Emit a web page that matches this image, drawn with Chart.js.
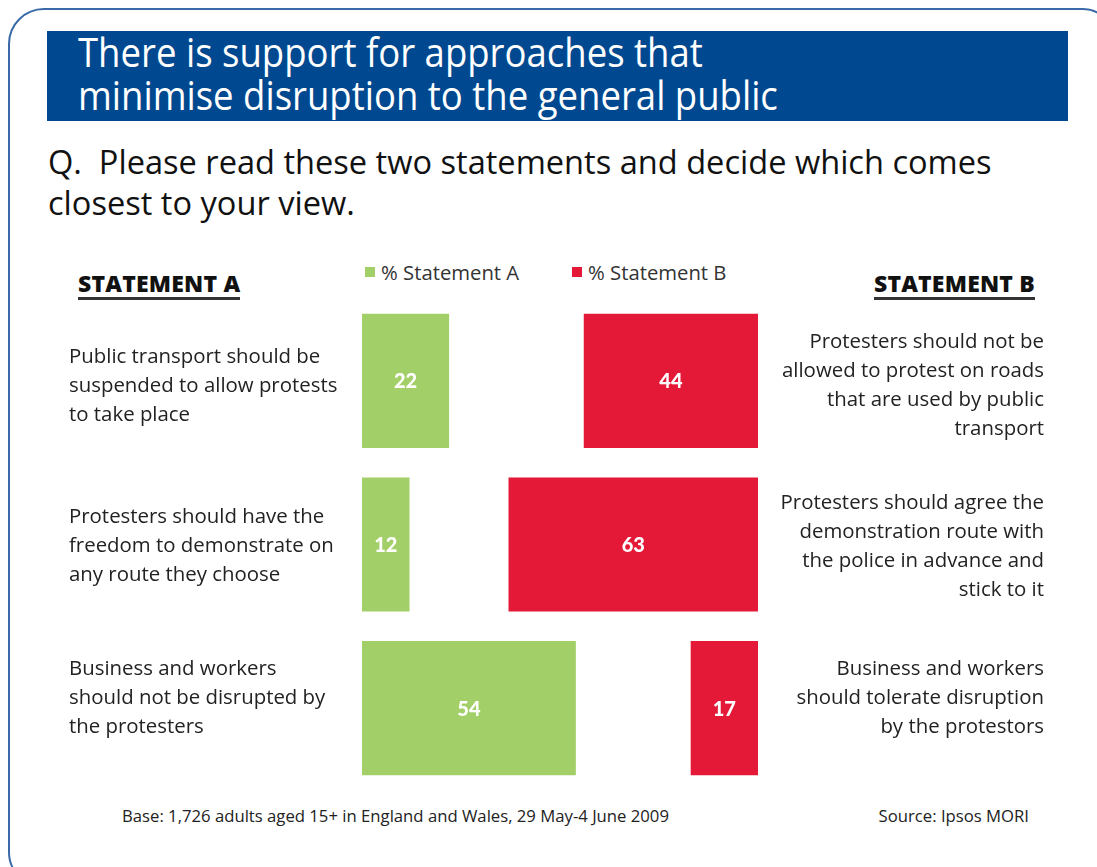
<!DOCTYPE html>
<html>
<head>
<meta charset="utf-8">
<script src="https://cdn.jsdelivr.net/npm/chart.js@4/dist/chart.umd.min.js"></script>
<style>
  html, body { margin: 0; padding: 0; background: #fff; }
  body { width: 1097px; height: 867px; position: relative; overflow: hidden; font-family: "Open Sans", Lato, sans-serif; color: #222; }
  #frame { position: absolute; left: 8px; top: 8px; width: 1110px; height: 880px; border: 2px solid #3b6aa8; border-radius: 36px; box-sizing: border-box; }
  #banner { position: absolute; left: 47px; top: 31px; width: 1021px; height: 90px; background: #004990; }
  #title { position: absolute; left: 78px; top: 30px; color: #fff; font-size: 40px; line-height: 43px; white-space: nowrap; transform: scaleX(0.913); transform-origin: left top; }
  #question { position: absolute; left: 48px; top: 141px; font-size: 32.6px; line-height: 41px; color: #111; white-space: nowrap; }
  .head { position: absolute; top: 271px; font-weight: 800; font-size: 23px; line-height: 25px; letter-spacing: 0.2px; border-bottom: 3px solid #333; padding-bottom: 1px; color: #111; white-space: nowrap; }
  .legend { position: absolute; top: 259px; font-size: 20.3px; line-height: 26px; color: #333; white-space: nowrap; }
  .legend i { display: inline-block; width: 10px; height: 10px; margin-right: 6px; vertical-align: 3px; }
  .foot { position: absolute; top: 805px; font-size: 16.7px; line-height: 22px; color: #222; white-space: nowrap; }
  canvas { position: absolute; left: 0; top: 0; }
</style>
</head>
<body>
<div id="frame"></div>
<div id="banner"></div>
<div id="title">There is support for approaches that<br>minimise disruption to the general public</div>
<div id="question">Q.&nbsp; Please read these two statements and decide which comes<br>closest to your view.</div>
<div class="head" style="left:78px">STATEMENT A</div>
<div class="head" style="right:62px">STATEMENT B</div>
<div class="legend" style="left:365px"><i style="background:#a2cf67"></i>% Statement A</div>
<div class="legend" style="left:572px"><i style="background:#e31937"></i>% Statement B</div>
<div class="foot" style="left:122px">Base: 1,726 adults aged 15+ in England and Wales, 29 May-4 June 2009</div>
<div class="foot" style="right:68px">Source: Ipsos MORI</div>
<canvas id="chart" width="1097" height="867"></canvas>

<script>
// rows, top to bottom
const rows = ['transport', 'route', 'business'];
const statementA = [22, 12, 54];
const statementB = [44, 63, 17];

const textA = [
  ['Public transport should be', 'suspended to allow protests', 'to take place'],
  ['Protesters should have the', 'freedom to demonstrate on', 'any route they choose'],
  ['Business and workers', 'should not be disrupted by', 'the protesters']
];
const textB = [
  ['Protesters should not be', 'allowed to protest on roads', 'that are used by public', 'transport'],
  ['Protesters should agree the', 'demonstration route with', 'the police in advance and', 'stick to it'],
  ['Business and workers', 'should tolerate disruption', 'by the protestors']
];

const GREEN = '#a2cf67';
const RED = '#e31937';

// white numbers in the middle of each bar
const barValues = {
  id: 'barValues',
  afterDatasetsDraw(chart) {
    const c = chart.ctx;
    c.save();
    c.font = '900 20px Lato, sans-serif';
    c.fillStyle = '#fff';
    c.textAlign = 'center';
    c.textBaseline = 'middle';
    chart.data.datasets.forEach((ds, i) => {
      chart.getDatasetMeta(i).data.forEach((bar, j) => {
        const p = bar.getCenterPoint();
        c.fillText(ds.values[j], p.x, p.y + 1);
      });
    });
    c.restore();
  }
};

// statement text either side of the bars, centred on each row
const sideText = {
  id: 'sideText',
  afterDraw(chart, args, opts) {
    const c = chart.ctx;
    const y = chart.scales.y;
    const lh = 29;
    c.save();
    c.font = '20.4px "Open Sans", sans-serif';
    c.fillStyle = '#222';
    c.textBaseline = 'middle';
    rows.forEach((r, i) => {
      const cy = y.getPixelForValue(i) + opts.shift[i];
      c.textAlign = 'left';
      textA[i].forEach((t, k) => c.fillText(t, opts.left, cy + (k - (textA[i].length - 1) / 2) * lh));
      c.textAlign = 'right';
      textB[i].forEach((t, k) => c.fillText(t, opts.right, cy + (k - (textB[i].length - 1) / 2) * lh));
    });
    c.restore();
  }
};

new Chart(document.getElementById('chart'), {
  type: 'bar',
  data: {
    labels: rows,
    datasets: [
      { label: '% Statement A', values: statementA, data: statementA.map(v => [0, v]), backgroundColor: GREEN, grouped: false },
      { label: '% Statement B', values: statementB, data: statementB.map(v => [100 - v, 100]), backgroundColor: RED, grouped: false }
    ]
  },
  options: {
    indexAxis: 'y',
    responsive: false,
    animation: false,
    layout: { padding: { left: 362, right: 339, top: 299, bottom: 77 } },
    barPercentage: 1,
    categoryPercentage: 0.82,
    scales: {
      x: { display: false, min: 0, max: 100 },
      y: { display: false }
    },
    plugins: {
      legend: { display: false },
      tooltip: { enabled: false },
      sideText: { left: 69, right: 1044, shift: [5, 2, -10] }
    }
  },
  plugins: [barValues, sideText]
});
</script>
</body>
</html>
